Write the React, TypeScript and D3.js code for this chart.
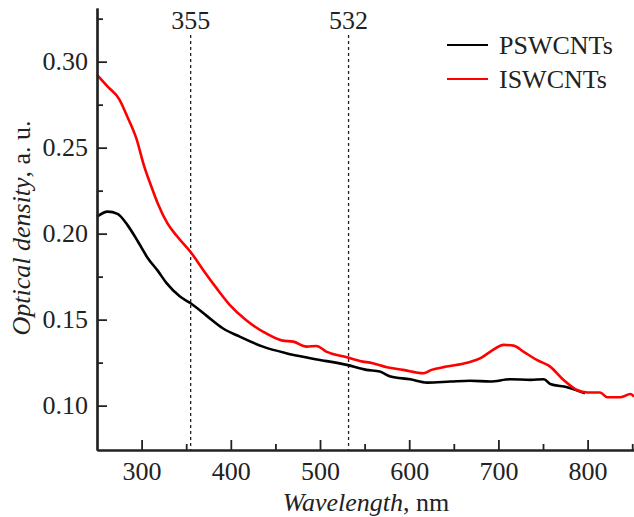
import React, { useEffect, useRef } from "react";
import * as d3 from "d3";

// wavelength (nm) / optical density
const pswWave = [250, 262, 273, 284, 296, 307, 318, 328, 343, 355, 373, 391, 410, 436, 462, 492, 530, 552, 567, 579, 601, 620, 646, 668, 691, 713, 736, 751, 758, 777, 797];
const pswOD = [0.2099, 0.2128, 0.2115, 0.2051, 0.1953, 0.1857, 0.1785, 0.1712, 0.1634, 0.1595, 0.1522, 0.145, 0.1401, 0.1343, 0.1305, 0.1273, 0.1237, 0.1208, 0.1198, 0.1169, 0.1153, 0.1134, 0.114, 0.1145, 0.114, 0.1153, 0.115, 0.1153, 0.1126, 0.1107, 0.1072];

const iswWave = [250, 262, 275, 284, 294, 303, 311, 318, 329, 340, 356, 369, 384, 399, 417, 436, 458, 470, 485, 496, 507, 530, 548, 556, 575, 593, 616, 625, 642, 665, 680, 691, 706, 717, 728, 743, 758, 773, 788, 800, 814, 822, 837, 848, 852];
const iswOD = [0.2923, 0.2855, 0.2781, 0.268, 0.2555, 0.239, 0.2273, 0.2177, 0.206, 0.1983, 0.1886, 0.1789, 0.1683, 0.1585, 0.1498, 0.143, 0.1378, 0.1372, 0.1343, 0.1347, 0.1314, 0.1281, 0.1256, 0.125, 0.1223, 0.1208, 0.1188, 0.1208, 0.1227, 0.125, 0.1276, 0.1314, 0.1353, 0.1349, 0.1314, 0.1266, 0.1227, 0.1149, 0.1091, 0.1076, 0.1076, 0.1049, 0.1049, 0.1068, 0.1052];

const seriesNames = ["PSWCNTs", "ISWCNTs"];
const seriesColors = ["#000000", "#ff0000"];
const laserLines = [355, 532];
const xMajor = [300, 400, 500, 600, 700, 800];
const xMinor = [350, 450, 550, 650, 750, 850];
const yMajor = [0.1, 0.15, 0.2, 0.25, 0.3];
const yMinor = [0.125, 0.175, 0.225, 0.275, 0.325];

export default function App() {
  const ref = useRef<SVGSVGElement>(null);

  useEffect(() => {
    const svg = d3.select(ref.current);
    svg.selectAll("*").remove();
    const font = '"Liberation Serif", serif';
    const ink = "#222";

    const left = 97, right = 634, top = 8, bottom = 450;
    const x = d3.scaleLinear().domain([250, 852]).range([left, right]);
    const y = d3.scaleLinear().domain([0.0742, 0.3312]).range([bottom, top]);

    // dotted laser wavelength markers
    laserLines.forEach(w => {
      svg.append("line")
        .attr("x1", x(w)).attr("x2", x(w))
        .attr("y1", 35).attr("y2", bottom)
        .attr("stroke", ink).attr("stroke-width", 1.3)
        .attr("stroke-dasharray", "3,3");
      svg.append("text")
        .attr("x", x(w)).attr("y", 29)
        .attr("text-anchor", "middle")
        .style("font-family", font).style("font-size", "26px").attr("fill", ink)
        .text(String(w));
    });

    const line = d3.line<[number, number]>()
      .x(d => x(d[0]))
      .y(d => y(d[1]))
      .curve(d3.curveMonotoneX);

    const series = [
      d3.zip(pswWave, pswOD) as [number, number][],
      d3.zip(iswWave, iswOD) as [number, number][],
    ];
    series.forEach((pts, i) => {
      svg.append("path")
        .attr("d", line(pts))
        .attr("fill", "none")
        .attr("stroke", seriesColors[i])
        .attr("stroke-width", 2.6)
        .attr("stroke-linejoin", "round");
    });

    // axes, ticks pointing inward
    const xAxis = svg.append("g").attr("transform", `translate(0, ${bottom})`);
    xAxis.call(d3.axisBottom(x).tickValues(xMajor).tickSizeInner(-10).tickSizeOuter(0).tickPadding(12).tickFormat(d3.format("d")));
    xAxis.append("g").call(d3.axisBottom(x).tickValues(xMinor).tickSizeInner(-6).tickSizeOuter(0).tickFormat(() => ""));

    const yAxis = svg.append("g").attr("transform", `translate(${left}, 0)`);
    yAxis.call(d3.axisLeft(y).tickValues(yMajor).tickSizeInner(-10).tickSizeOuter(0).tickPadding(9).tickFormat(d3.format(".2f")));
    yAxis.append("g").call(d3.axisLeft(y).tickValues(yMinor).tickSizeInner(-6).tickSizeOuter(0).tickFormat(() => ""));

    svg.selectAll(".domain").attr("stroke", ink).attr("stroke-width", 2.2);
    svg.selectAll(".tick line").attr("stroke", ink).attr("stroke-width", 1.8);
    svg.selectAll(".tick text").style("font-family", font).style("font-size", "26px").attr("fill", ink);

    // axis titles
    const xt = svg.append("text")
      .attr("x", 366).attr("y", 511)
      .attr("text-anchor", "middle")
      .style("font-family", font).style("font-size", "26px").attr("fill", ink);
    xt.append("tspan").style("font-style", "italic").text("Wavelength");
    xt.append("tspan").text(", nm");

    const yt = svg.append("text")
      .attr("transform", "translate(30, 228) rotate(-90)")
      .attr("text-anchor", "middle")
      .style("font-family", font).style("font-size", "26px").attr("fill", ink);
    yt.append("tspan").style("font-style", "italic").text("Optical density");
    yt.append("tspan").text(", a. u.");

    // legend
    seriesNames.forEach((name, i) => {
      const ly = 45 + i * 34;
      svg.append("line")
        .attr("x1", 447).attr("x2", 488)
        .attr("y1", ly).attr("y2", ly)
        .attr("stroke", seriesColors[i]).attr("stroke-width", 2.2);
      svg.append("text")
        .attr("x", 499).attr("y", ly + 9)
        .style("font-family", font).style("font-size", "26px").attr("fill", ink)
        .text(name);
    });
  }, []);

  return (
    <svg ref={ref} width={634} height={517}
      style={{ position: "absolute", left: 0, top: 0, background: "#fff" }} />
  );
}
